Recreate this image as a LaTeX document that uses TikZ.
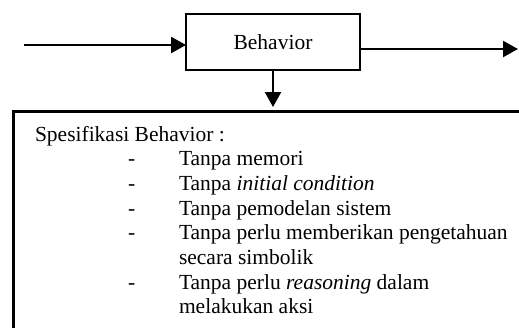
\documentclass[tikz,border=0pt]{standalone}
\usepackage{fontspec}
\setmainfont{Liberation Serif}
\usetikzlibrary{arrows.meta}
\tikzset{
  blk/.style={draw=black, line width=2.1pt, rectangle, minimum width=174pt, minimum height=56pt, inner sep=0pt, outer sep=0pt},
  arr/.style={draw=black, line width=2.3pt, -{Triangle[length=15pt,width=16pt]}},
  frame/.style={draw=black, line width=2.5pt},
  txt/.style={anchor=base west, inner sep=0pt, outer sep=0pt},
  area/.style={rectangle, inner sep=0pt, outer sep=0pt, minimum width=530pt, minimum height=240pt, anchor=north west}
}
\begin{document}
\begin{tikzpicture}[x=1pt, y=-1pt, font=\fontsize{21.5}{24.7}\selectfont]
\useasboundingbox (0,0) rectangle (519,327);
% main block
\node[blk] (beh) at (273,42) {Behavior};
% spec area (extends past right and bottom edge)
\node[area] (spec) at (13.7,111.3) {};
\draw[frame] ([yshift=-20pt]spec.south west) -- (spec.north west) -- ([xshift=20pt]spec.north east);
% connectors
\coordinate (src) at (24,45);
\coordinate (snk) at (518,49);
\draw[arr] (src) -- (src -| beh.west);
\draw[arr] (snk -| beh.east) -- (snk);
\draw[arr, shorten >=4.3pt] (beh.south) -- (beh.south |- spec.north);
% texts
\node[txt] (t0) at (35,141) {Spesifikasi Behavior :};
\node[txt] (d1) at (128,165.7) {-};
\node[txt] (t1) at (179,165.7) {Tanpa memori};
\node[txt] (d2) at (128,190.4) {-};
\node[txt] (t2) at (179,190.4) {Tanpa \textit{initial condition}};
\node[txt] (d3) at (128,215.1) {-};
\node[txt] (t3) at (179,215.1) {Tanpa pemodelan sistem};
\node[txt] (d4) at (128,239.8) {-};
\node[txt] (t4) at (179,239.8) {Tanpa perlu memberikan pengetahuan};
\node[txt] (t5) at (179,264.5) {secara simbolik};
\node[txt] (d6) at (128,289.2) {-};
\node[txt] (t6) at (179,289.2) {Tanpa perlu \textit{reasoning} dalam};
\node[txt] (t7) at (179,313.9) {melakukan aksi};
\end{tikzpicture}
\end{document}
